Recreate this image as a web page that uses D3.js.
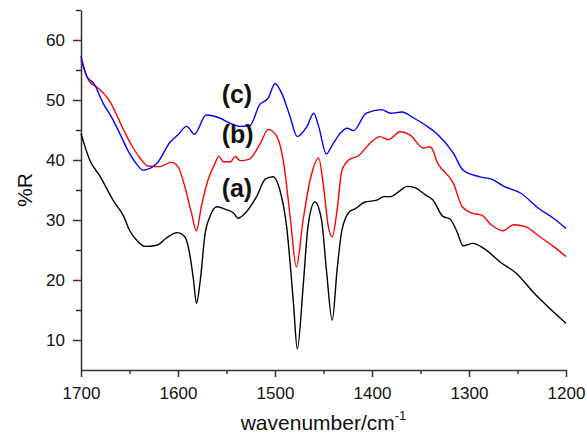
<!DOCTYPE html>
<html lang="en">
<head>
  <meta charset="UTF-8">
  <script src="https://d3js.org/d3.v7.min.js"></script>
  <title>%R spectra</title>
  <style>
    body { margin: 0; background: #fff; }
    svg { font-family: "Liberation Sans", Arial, sans-serif; }
    .axis path, .axis line { stroke: #333; stroke-width: 1.5px; }
    .axis text { font-size: 17px; fill: #111; }
    .series { fill: none; stroke-width: 1.4px; }
  </style>
</head>
<body>
<div id="chart"></div>
<script>
  // (a) black
  const wnA = [1700,1691,1680,1667,1656,1650,1643,1634,1622,1612,1601,1593,1588,1584,1581,1577,1572,1567,1560,1550,
               1543,1538,1531,1519,1510,1502,1495,1488,1481,1477,1471,1466,1459,1452,1447,1441,1436,1431,1423,1418,
               1407,1395,1388,1381,1371,1364,1356,1345,1337,1327,1320,1313,1306,1296,1285,1268,1251,1234,1217,1200];
  const valA = [44.4,40,37.2,33.3,30.6,28.3,26.7,25.6,25.8,27,27.9,27.2,24.4,20,16.1,20,27.8,30.6,32.2,31.7,
                31.2,30.3,31.1,33.9,36.8,37.2,35,28.9,16.2,8.5,18.9,28.9,33,30,21.7,13.3,21.7,28.3,31.4,31.8,
                33,33.3,33.9,33.9,34.9,35.6,35.4,34.2,33.3,30.6,30.2,28.3,25.7,26.1,25.3,23,21.1,18,15.3,12.8];

  // (b) red
  const wnB = [1700,1691,1684,1670,1656,1648,1639,1631,1619,1607,1600,1593,1586,1581,1576,1569,1562,1558,1553,1546,
               1541,1536,1527,1515,1507,1498,1491,1484,1478,1471,1464,1455,1450,1445,1441,1436,1431,1424,1414,1402,
               1392,1383,1371,1361,1347,1340,1332,1316,1307,1296,1287,1277,1265,1254,1242,1227,1213,1200];
  const valB = [56.7,53,52.2,49.7,45,42.5,40.3,39,38.9,39.6,38.9,35.6,31.1,28.2,32.2,36.7,39.4,40.6,39.7,39.7,
                40.6,39.9,40.1,42.8,45.1,43.9,39.4,30,22.2,30,36.5,40.3,35.6,28.9,27.2,31.7,38.3,40,40.7,42.8,
                43.9,43.4,44.7,44.2,42,42.2,39.4,36.1,32.2,31.1,30.8,29.2,28.2,29.2,28.9,27.2,25.6,23.9];

  // (c) blue
  const wnC = [1700,1694,1687,1677,1667,1660,1651,1643,1636,1622,1608,1600,1591,1583,1571,1557,1546,1536,1526,1516,
               1507,1500,1493,1485,1477,1467,1460,1455,1447,1442,1433,1426,1419,1406,1390,1381,1369,1357,1344,1332,
               1316,1306,1289,1275,1265,1247,1227,1213,1200];
  const valC = [57.3,53.9,52.8,49.4,46.7,44.4,41.4,39.4,38.3,39.4,43,44.2,45.6,44.3,47.5,47,46.1,45.6,45.7,49.2,
                50.3,52.7,51.1,47.5,43.9,45.6,47.8,45.6,41,42.2,44.4,45.3,44.9,47.8,48.4,47.8,48,47,45.7,44.2,
                41.1,38.3,37.2,36.7,35.7,34.5,31.8,30.3,28.6];

  const xTicks = [1700, 1600, 1500, 1400, 1300, 1200];
  const xMinor = [1650, 1550, 1450, 1350, 1250];
  const yTicks = [10, 20, 30, 40, 50, 60];
  const yMinor = [15, 25, 35, 45, 55, 65];

  const labelNames = ["(a)", "(b)", "(c)"];
  const labelWn = [1555, 1555, 1555];
  const labelVal = [33.8, 42.8, 49.5];

  const width = 587, height = 436;
  const margin = { top: 10, right: 21, bottom: 66, left: 81 };

  const svg = d3.select("#chart").append("svg")
    .attr("width", width)
    .attr("height", height);

  const x = d3.scaleLinear().domain([1700, 1200]).range([margin.left, width - margin.right]);
  const y = d3.scaleLinear().domain([5, 65]).range([height - margin.bottom, margin.top]);

  // minor ticks first, no labels
  svg.append("g").attr("class", "axis")
    .attr("transform", `translate(0,${height - margin.bottom})`)
    .call(d3.axisBottom(x).tickValues(xMinor).tickSize(4).tickFormat(""))
    .select(".domain").remove();
  svg.append("g").attr("class", "axis")
    .attr("transform", `translate(${margin.left},0)`)
    .call(d3.axisLeft(y).tickValues(yMinor).tickSize(5).tickFormat(""))
    .select(".domain").remove();

  svg.append("g").attr("class", "axis")
    .attr("transform", `translate(0,${height - margin.bottom})`)
    .call(d3.axisBottom(x).tickValues(xTicks).tickSize(7).tickSizeOuter(0).tickPadding(10).tickFormat(d3.format("d")));

  svg.append("g").attr("class", "axis")
    .attr("transform", `translate(${margin.left},0)`)
    .call(d3.axisLeft(y).tickValues(yTicks).tickSize(8).tickSizeOuter(0).tickPadding(8));

  const line = d3.line()
    .x(d => x(d[0]))
    .y(d => y(d[1]))
    .curve(d3.curveMonotoneX);

  const series = [
    { wn: wnA, val: valA, color: "#000000" },
    { wn: wnB, val: valB, color: "#ff0000" },
    { wn: wnC, val: valC, color: "#0000ff" }
  ];

  series.forEach(s => {
    svg.append("path")
      .datum(s.wn.map((w, i) => [w, s.val[i]]))
      .attr("class", "series")
      .attr("stroke", s.color)
      .attr("d", line);
  });

  labelNames.forEach((t, i) => {
    svg.append("text")
      .attr("x", x(labelWn[i]))
      .attr("y", y(labelVal[i]))
      .style("font-size", "25px")
      .style("font-weight", "bold")
      .style("fill", "#111")
      .text(t);
  });

  // axis titles
  const xt = svg.append("text")
    .attr("x", (margin.left + width - margin.right) / 2)
    .attr("y", 430)
    .attr("text-anchor", "middle")
    .style("font-size", "21px")
    .style("fill", "#111");
  xt.append("tspan").text("wavenumber/cm");
  xt.append("tspan").attr("dy", -10).style("font-size", "13px").text("-1");

  svg.append("text")
    .attr("transform", `translate(32,${(margin.top + height - margin.bottom) / 2}) rotate(-90)`)
    .attr("text-anchor", "middle")
    .style("font-size", "21px")
    .style("fill", "#111")
    .text("%R");
</script>
</body>
</html>
